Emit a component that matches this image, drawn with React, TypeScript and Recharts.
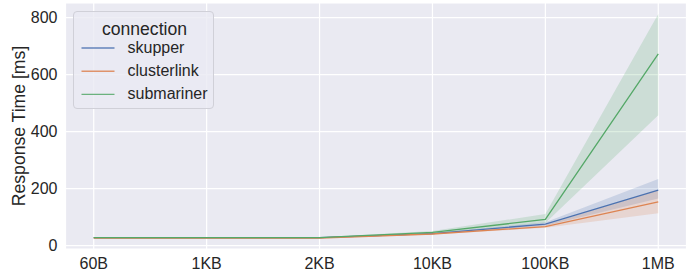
import React from "react";
import { ComposedChart, Line, Area, XAxis, YAxis, CartesianGrid, Legend } from "recharts";

const categories = ["60B", "1KB", "2KB", "10KB", "100KB", "1MB"];
const yTicks = [0, 200, 400, 600, 800];

const skupper = [28, 28, 28, 42, 76, 195];
const skupperLo = [26, 26, 26, 40, 70, 166];
const skupperHi = [30, 30, 30, 45, 82, 234];

const clusterlink = [27, 27, 27, 41, 67, 154];
const clusterlinkLo = [25, 25, 25, 39, 63, 114];
const clusterlinkHi = [29, 29, 29, 44, 73, 195];

const submariner = [28, 28, 28, 47, 92, 673];
const submarinerLo = [26, 26, 27, 43, 80, 458];
const submarinerHi = [30, 30, 30, 52, 111, 813];

const seriesNames = ["skupper", "clusterlink", "submariner"];
const colors = ["#4C72B0", "#DD8452", "#55A868"];

const data = categories.map((c, i) => ({
  x: i,
  skupper: skupper[i],
  skupperBand: [skupperLo[i], skupperHi[i]],
  clusterlink: clusterlink[i],
  clusterlinkBand: [clusterlinkLo[i], clusterlinkHi[i]],
  submariner: submariner[i],
  submarinerBand: [submarinerLo[i], submarinerHi[i]],
}));

const FONT = "'Liberation Sans', Arial, sans-serif";

const LegendBox = () => (
  <div
    style={{
      position: "absolute",
      left: 73,
      top: 11,
      width: 141,
      height: 98,
      boxSizing: "border-box",
      border: "1px solid #d0d0d8",
      borderRadius: 4,
      background: "rgba(234,234,242,0.8)",
      fontFamily: FONT,
      color: "#262626",
    }}
  >
    <div style={{ position: "absolute", left: 0, width: 141, top: 7, textAlign: "center", fontSize: 17.6, lineHeight: "20px" }}>
      connection
    </div>
    <svg style={{ position: "absolute", left: 0, top: 0 }} width={60} height={98}>
      {seriesNames.map((n, i) => (
        <line key={n} x1={7.5} x2={40.5} y1={36 + i * 23.2} y2={36 + i * 23.2} stroke={colors[i]} strokeWidth={1.4} strokeOpacity={0.85} />
      ))}
    </svg>
    {seriesNames.map((n, i) => (
      <div key={n} style={{ position: "absolute", left: 53.5, top: 26 + i * 23.2, fontSize: 16, lineHeight: "20px" }}>{n}</div>
    ))}
  </div>
);

export default function App() {
  return (
    <div style={{ position: "absolute", left: 0, top: 0, width: 691, height: 273, background: "#fff" }}>
      <ComposedChart
        width={691}
        height={273}
        data={data}
        margin={{ top: 3, right: 4.5, bottom: 4, left: 5.5 }}
      >
        <CartesianGrid stroke="#ffffff" strokeWidth={1.2} fill="#EAEAF2" fillOpacity={1} />
        <XAxis
          dataKey="x"
          type="number"
          domain={[-0.25, 5.25]}
          ticks={[0, 1, 2, 3, 4, 5]}
          tickFormatter={(v: number) => categories[v]}
          axisLine={false}
          tickLine={false}
          height={20}
          tickMargin={3}
          tick={{ fill: "#262626", fontSize: 16, fontFamily: FONT }}
          allowDataOverflow
        />
        <YAxis
          type="number"
          domain={[-11.6, 851.6]}
          ticks={yTicks}
          axisLine={false}
          tickLine={false}
          width={60}
          tick={{ fill: "#262626", fontSize: 16, fontFamily: FONT }}
          allowDataOverflow
          label={{
            value: "Response Time [ms]",
            angle: -90,
            position: "insideLeft",
            offset: 0,
            dx: 13,
            style: { textAnchor: "middle", fill: "#262626", fontSize: 17.6, fontFamily: FONT },
          }}
        />
        <Area dataKey="skupperBand" stroke="none" fill={colors[0]} fillOpacity={0.2} isAnimationActive={false} legendType="none" />
        <Area dataKey="clusterlinkBand" stroke="none" fill={colors[1]} fillOpacity={0.2} isAnimationActive={false} legendType="none" />
        <Area dataKey="submarinerBand" stroke="none" fill={colors[2]} fillOpacity={0.2} isAnimationActive={false} legendType="none" />
        <Line dataKey="skupper" stroke={colors[0]} strokeWidth={1.3} dot={false} isAnimationActive={false} />
        <Line dataKey="clusterlink" stroke={colors[1]} strokeWidth={1.3} dot={false} isAnimationActive={false} />
        <Line dataKey="submariner" stroke={colors[2]} strokeWidth={1.3} dot={false} isAnimationActive={false} />
        <Legend content={() => null} />
      </ComposedChart>
      <LegendBox />
    </div>
  );
}
